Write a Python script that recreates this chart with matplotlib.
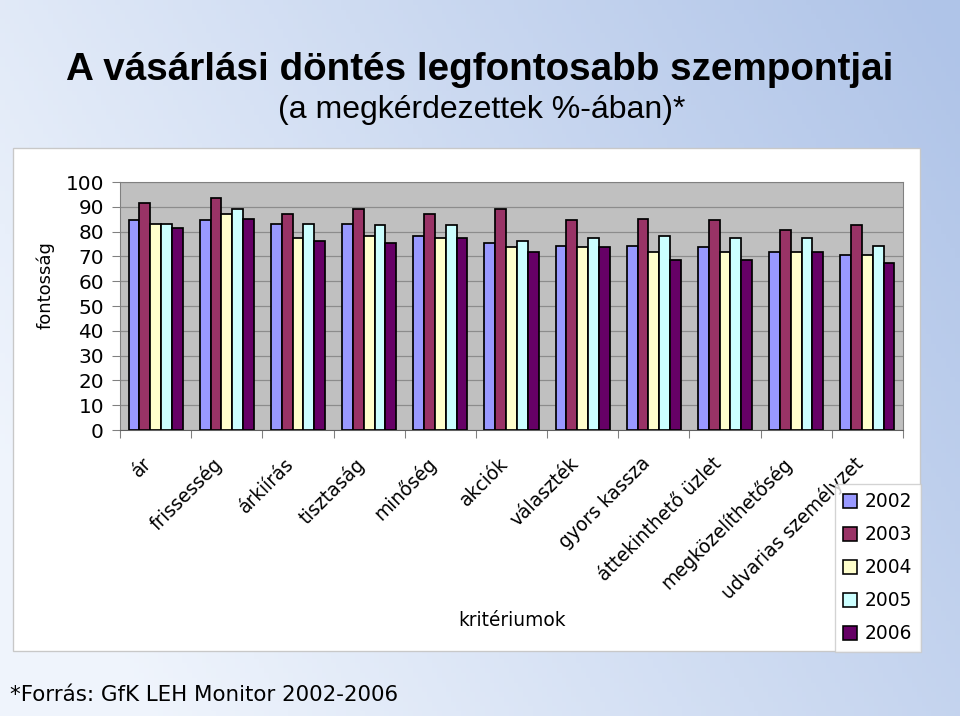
import numpy as np
import matplotlib
matplotlib.use("Agg")
import matplotlib.pyplot as plt
from matplotlib.patches import Rectangle, Patch

categories = ["ár", "frissesség", "árkiírás", "tisztaság", "minőség", "akciók",
              "választék", "gyors kassza", "áttekinthető üzlet",
              "megközelíthetőség", "udvarias személyzet"]
years = ["2002", "2003", "2004", "2005", "2006"]
v2002 = [84.5, 84.5, 83.1, 83.1, 78.1, 75.6, 74.2, 74.2, 73.6, 71.7, 70.5]
v2003 = [91.6, 93.6, 87.1, 89.1, 87.1, 89.1, 84.5, 85.2, 84.5, 80.7, 82.7]
v2004 = [83.1, 87.1, 77.3, 78.1, 77.3, 73.6, 73.6, 71.7, 71.7, 71.7, 70.5]
v2005 = [83.1, 89.1, 83.1, 82.7, 82.7, 76.1, 77.4, 78.1, 77.4, 77.4, 74.2]
v2006 = [81.3, 85.2, 76.2, 75.6, 77.4, 71.7, 73.6, 68.5, 68.5, 71.7, 67.3]
series = [v2002, v2003, v2004, v2005, v2006]
colors = ["#9999FF", "#993366", "#FFFFCC", "#CCFFFF", "#660066"]

W, H = 960, 716
fig = plt.figure(figsize=(W / 96, H / 96), dpi=96)

narrow = "Liberation Sans"
base = "DejaVu Sans"

# background gradient
bg = fig.add_axes([0, 0, 1, 1], zorder=-10)
xx = np.linspace(0, 1, 200)
yy = np.linspace(0, 1, 150)
X, Y = np.meshgrid(xx, yy)
t = np.clip(0.8 * X + 0.35 * (1 - Y) - 0.12, 0, 1)  # Y=0 top row
light = np.array([0.94, 0.96, 0.99])
dark = np.array([0.69, 0.77, 0.91])
img = light[None, None, :] * (1 - t[..., None]) + dark[None, None, :] * t[..., None]
bg.imshow(img, aspect="auto", extent=[0, 1, 0, 1], origin="upper")
bg.set_xlim(0, 1)
bg.set_ylim(0, 1)
bg.axis("off")

def fx(px):
    return px / W

def fy(py):
    return 1 - py / H

# white chart box
fig.patches.append(Rectangle((fx(13), fy(651)), fx(920) - fx(13), fy(148) - fy(651),
                             transform=fig.transFigure, facecolor="white",
                             edgecolor="#c8c8c8", linewidth=1, zorder=-5))

ax = fig.add_axes([fx(120), fy(430), fx(903) - fx(120), fy(182) - fy(430)])
ax.set_facecolor("#C0C0C0")
n = len(categories)
x = np.arange(n)
bw = 0.152
for i, (vals, c) in enumerate(zip(series, colors)):
    ax.bar(x + (i - 2) * bw, vals, width=bw, color=c, edgecolor="black",
           linewidth=1.3, zorder=3)

ax.set_xlim(-0.5, n - 0.5)
ax.set_ylim(0, 100)
ax.set_yticks(np.arange(0, 101, 10))
ax.yaxis.grid(True, color="#8c8c8c", linewidth=0.9, zorder=0)
ax.set_axisbelow(True)
ax.tick_params(axis="y", labelsize=15, length=6, color="#808080", pad=6)
for lab in ax.get_yticklabels():
    lab.set_fontfamily(base)

ax.set_xticks(np.arange(-0.5, n, 1.0))
ax.set_xticklabels([])
ax.tick_params(axis="x", which="major", length=6, color="#808080")
ax.set_xticks(x, minor=True)
ax.set_xticklabels(categories, minor=True, rotation=45, ha="right", va="top",
                   rotation_mode="default", fontsize=14, fontfamily=base)
ax.tick_params(axis="x", which="minor", length=0, pad=18)
for s in ax.spines.values():
    s.set_color("#808080")
ax.spines["bottom"].set_color("#606060")

fig.text(fx(45), fy(285), "fontosság", rotation=90, ha="center", va="center",
         fontsize=13.5, fontfamily=base)
fig.text(fx(512), fy(620), "kritériumok", ha="center", va="center",
         fontsize=14, fontfamily=base)

fig.text(fx(480), fy(70), "A vásárlási döntés legfontosabb szempontjai",
         ha="center", va="center", fontsize=29, fontweight="bold", fontfamily=narrow)
fig.text(fx(482), fy(110), "(a megkérdezettek %-ában)*",
         ha="center", va="center", fontsize=24, fontfamily=narrow)
fig.text(fx(10), fy(695), "*Forrás: GfK LEH Monitor 2002-2006",
         ha="left", va="center", fontsize=16, fontfamily=base)

handles = [Patch(facecolor=c, edgecolor="black", linewidth=1.2) for c in colors]
leg = fig.legend(handles, years, loc="upper left",
                 bbox_to_anchor=(fx(835), fy(484)), frameon=True,
                 prop={"family": base, "size": 14}, handlelength=0.75,
                 handleheight=0.75, handletextpad=0.4, labelspacing=0.75,
                 borderpad=0.45, fancybox=False, borderaxespad=0)
leg.get_frame().set_edgecolor("#c8c8c8")
leg.get_frame().set_linewidth(1)

fig.savefig("out.png", dpi=96)
